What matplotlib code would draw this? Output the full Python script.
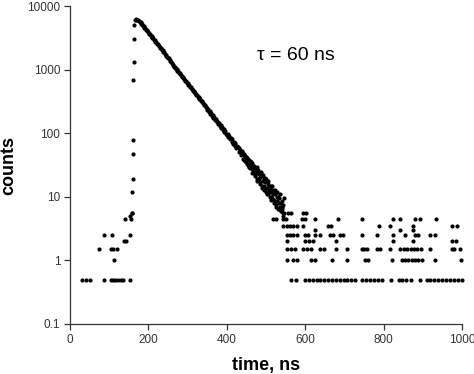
import matplotlib
matplotlib.use("Agg")
import matplotlib.pyplot as plt
from matplotlib.ticker import FixedLocator, FixedFormatter

plt.rcParams['font.family'] = ['Liberation Sans', 'DejaVu Sans']

# ---- data ----
# rising edge (time ns, counts)
rise_t = [153, 156, 157, 158, 160, 160, 160, 161, 162, 163, 164]
rise_c = [5, 4.5, 12, 5.5, 18.8, 47, 77, 680, 1300, 3070, 5000]

# peak region
peak_t = [166, 168, 170, 172, 174, 176, 178]
peak_c = [6050, 6300, 6150, 6000, 5950, 5800, 5650]

# decay, every 2 ns from 180 to 546 ns
decay_start = 180
decay_step = 2
decay_c = [
    5600, 5300, 5250, 4900, 4850,
    4550, 4500, 4250, 4200, 3950,
    3900, 3650, 3600, 3400, 3350,
    3150, 3120, 2950, 2900, 2720,
    2700, 2520, 2500, 2350, 2330,
    2180, 2160, 2030, 2010, 1880,
    1870, 1750, 1730, 1620, 1610,
    1500, 1500, 1400, 1390, 1300,
    1290, 1200, 1200, 1120, 1110,
    1040, 1040, 970, 965, 900,
    895, 830, 830, 775, 770,
    720, 720, 670, 665, 620,
    620, 575, 575, 535, 535,
    500, 495, 462, 462, 430,
    428, 398, 400, 370, 370,
    345, 345, 318, 320, 296,
    298, 275, 278, 255, 258,
    236, 240, 219, 222, 204,
    208, 188, 192, 175, 179,
    163, 167, 150, 156, 140,
    144, 130, 135, 120, 125,
    112, 118, 103, 108, 96,
    94, 99, 86, 90, 81,
    84, 74, 80, 69, 73,
    64, 70, 58, 63, 61,
    51, 58, 55, 46, 53,
    50, 40, 47, 44, 35,
    42, 33, 39, 30, 37,
    28, 35, 34, 25, 31,
    31, 22, 27, 29, 19,
    26, 20, 17, 25, 21,
    14, 22, 19, 15, 20,
    12, 17, 18, 11, 15,
    14, 10, 9, 15, 12,
    8, 13, 11, 7.5, 12,
    10, 6.5, 8, 11, 6,
    8.5, 7, 5, 9.5,
]

# extra decay channels at odd times, 441 to 545 ns
decay2_start = 441
decay2_c = [
    48, 38, 45, 36, 43, 41, 32, 38, 30, 36,
    33, 27, 24, 31, 26, 21, 28, 25, 18, 24,
    19, 23, 16, 21, 22, 15, 18, 13, 17, 19,
    14, 11, 16, 13, 10, 12, 15, 9.5, 11, 13,
    9, 11.5, 7, 10, 8.5, 6.5, 9.5, 7, 6, 8,
    6.5, 7.5, 5.5,
]

# baseline / tail points grouped by count level (time positions, ns)
t_05 = [30, 40, 51, 87, 104, 110, 116, 123, 129, 136, 153,
        564, 576, 600, 610, 619, 629, 639, 649, 658, 669, 679, 689, 698,
        707, 718, 727, 746, 756, 765, 775, 785, 795, 819, 838, 848, 857,
        871, 893, 910, 918, 928, 939, 949, 959, 969, 979, 990, 999]
t_10 = [112, 554, 570, 578, 616, 625, 669, 707, 753, 759, 821, 846, 855,
        863, 872, 880, 889, 897, 931, 997]
t_15 = [75, 104, 110, 119, 553, 565, 574, 595, 605, 616, 638, 648, 678,
        707, 744, 750, 757, 782, 791, 816, 843, 852, 860, 869, 878, 886,
        895, 918, 974, 980, 995]
t_20 = [138, 143, 553, 600, 610, 621, 678, 823, 874, 974, 985]
t_25 = [87, 106, 153, 553, 561, 570, 578, 600, 608, 625, 638, 663, 672,
        689, 697, 744, 784, 823, 855, 880, 889, 918, 931]
t_30 = [625, 842, 876]
t_35 = [544, 553, 561, 570, 578, 595, 659, 665, 787, 816, 876, 974, 986]
t_45 = [140, 519, 526, 544, 551, 591, 600, 625, 684, 744, 823, 842, 880,
        893, 934]
t_55 = [158, 544, 557, 565, 595, 602]

levels = [(t_05, 0.5), (t_10, 1.0), (t_15, 1.5), (t_20, 2.0), (t_25, 2.5),
          (t_30, 3.0), (t_35, 3.5), (t_45, 4.5), (t_55, 5.5)]

yticks = [0.1, 1, 10, 100, 1000, 10000]
ytick_labels = ["0.1", "1", "10", "100", "1000", "10000"]
xticks = [0, 200, 400, 600, 800, 1000]
xtick_labels = ["0", "200", "400", "600", "800", "1000"]

# ---- figure ----
fig = plt.figure(figsize=(4.74, 3.74), dpi=100)
ax = fig.add_axes([0.1477, 0.1337, 0.827, 0.850])

ms = 3.0
kw = dict(linestyle='none', marker='o', markersize=ms, color='black',
          markeredgewidth=0, clip_on=False)

decay_t = [decay_start + decay_step * i for i in range(len(decay_c))]
decay2_t = [decay2_start + 2 * i for i in range(len(decay2_c))]
ax.plot(rise_t, rise_c, **kw)
ax.plot(peak_t, peak_c, **kw)
ax.plot(decay_t, decay_c, **kw)
ax.plot(decay2_t, decay2_c, **kw)
for ts, lev in levels:
    ax.plot(ts, [lev] * len(ts), **kw)

ax.set_yscale('log')
ax.set_xlim(0, 1000)
ax.set_ylim(0.1, 10000)

ax.yaxis.set_major_locator(FixedLocator(yticks))
ax.yaxis.set_major_formatter(FixedFormatter(ytick_labels))
ax.yaxis.set_minor_locator(FixedLocator([]))
ax.xaxis.set_major_locator(FixedLocator(xticks))
ax.xaxis.set_major_formatter(FixedFormatter(xtick_labels))

for s in ['top', 'right']:
    ax.spines[s].set_visible(False)
for s in ['left', 'bottom']:
    ax.spines[s].set_linewidth(0.9)
    ax.spines[s].set_color('#333333')

ax.tick_params(axis='both', direction='out', length=4, width=0.9,
               color='#333333', labelsize=8.5, labelcolor='#333333', pad=3)

ax.set_xlabel('time, ns', fontsize=13, fontweight='bold', labelpad=8)
ax.set_ylabel('counts', fontsize=13, fontweight='bold', labelpad=7)

ax.text(577, 1670, 'τ = 60 ns', fontsize=14, color='black', ha='center',
        va='center')

fig.savefig('out.png', dpi=100)
